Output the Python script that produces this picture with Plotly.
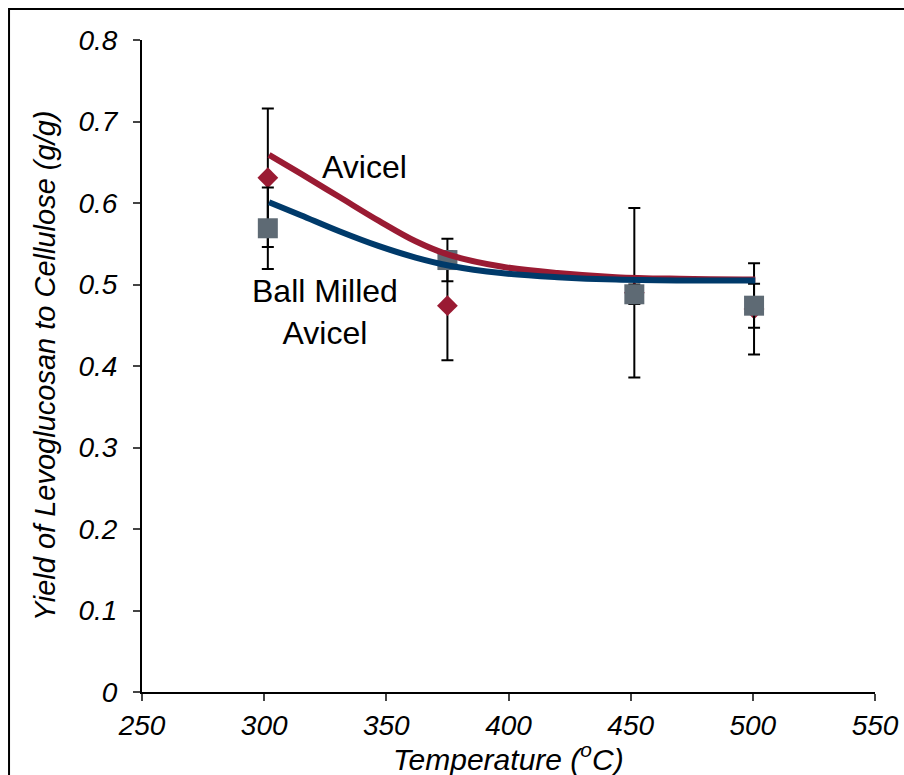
import plotly.graph_objects as go

# Measured data
temps = [301.5, 375, 451.5, 500.5]
avicel_yield = [0.631, 0.474, 0.490, 0.470]
avicel_err = [0.085, 0.067, 0.104, 0.056]
bm_yield = [0.569, 0.530, 0.488, 0.474]
bm_err = [0.050, 0.026, 0.012, 0.027]

# Fitted curves
fit_t = [302, 315, 331, 347, 362, 376, 397, 420, 444, 470, 501]
avicel_fit = [0.659, 0.636, 0.607, 0.578, 0.553, 0.536, 0.522, 0.514, 0.509, 0.507, 0.506]
bm_fit = [0.601, 0.585, 0.565, 0.547, 0.533, 0.523, 0.514, 0.509, 0.506, 0.505, 0.505]

x_ticks = [250, 300, 350, 400, 450, 500, 550]
y_ticks = [0, 0.1, 0.2, 0.3, 0.4, 0.5, 0.6, 0.7, 0.8]
y_tick_text = ["0", "0.1", "0.2", "0.3", "0.4", "0.5", "0.6", "0.7", "0.8"]

RED = "#9A1B33"
BLUE = "#003A6A"
GRAY = "#5E6A74"
FONT = "Liberation Sans, Arial, sans-serif"

fig = go.Figure()
fig.add_trace(go.Scatter(
    x=temps, y=avicel_yield, mode="markers",
    marker=dict(symbol="diamond", size=16, color=RED),
    error_y=dict(type="data", array=avicel_err, color="black", thickness=2, width=6),
    showlegend=False))
fig.add_trace(go.Scatter(
    x=temps, y=bm_yield, mode="markers",
    marker=dict(symbol="square", size=20, color=GRAY),
    error_y=dict(type="data", array=bm_err, color="black", thickness=2, width=6),
    showlegend=False))
fig.add_trace(go.Scatter(
    x=fit_t, y=avicel_fit, mode="lines",
    line=dict(color=RED, width=6, shape="spline", smoothing=1), showlegend=False))
fig.add_trace(go.Scatter(
    x=fit_t, y=bm_fit, mode="lines",
    line=dict(color=BLUE, width=6, shape="spline", smoothing=1), showlegend=False))

tickfont = dict(family=FONT, size=28, color="black", style="italic")

fig.update_xaxes(
    range=[250, 550], tickvals=x_ticks, ticks="outside", ticklen=7, tickwidth=2,
    showline=True, linewidth=2, linecolor="black", showgrid=False, zeroline=False,
    tickfont=tickfont, automargin=False)
fig.update_yaxes(
    range=[0, 0.8], tickvals=y_ticks, ticktext=y_tick_text, ticks="outside",
    ticklen=7, tickwidth=2, showline=True, linewidth=2, linecolor="black",
    showgrid=False, zeroline=False, tickfont=tickfont, ticklabelstandoff=10,
    automargin=False)

fig.add_annotation(text="Temperature (<sup>o</sup>C)", xref="paper", yref="paper",
                   x=0.5, y=-0.1, xanchor="center", yanchor="middle", showarrow=False,
                   font=dict(family=FONT, size=30, color="black", style="italic"))
fig.add_annotation(text="Yield of Levoglucosan to Cellulose (g/g)", xref="paper", yref="paper",
                   x=-0.1323, y=0.5, xanchor="center", yanchor="middle", textangle=-90,
                   showarrow=False,
                   font=dict(family=FONT, size=29, color="black", style="italic"))
fig.add_annotation(text="Avicel", x=341, y=0.644, showarrow=False,
                   font=dict(family=FONT, size=32, color="black"))
fig.add_annotation(text="Ball Milled<br>Avicel", x=325, y=0.466, showarrow=False,
                   font=dict(family=FONT, size=32, color="black"))

# outer frame (left and top edges visible)
fig.add_shape(type="rect", xref="paper", yref="paper", x0=-0.1814, x1=1.4, y0=-0.4, y1=1.0475,
              line=dict(color="black", width=2), layer="below")

fig.update_layout(
    width=904, height=775, margin=dict(l=142, r=29, t=40, b=83, autoexpand=False),
    paper_bgcolor="white", plot_bgcolor="white")

fig.write_html(
    "out.html",
    config={"displayModeBar": False},
    post_script="document.body.style.margin='0';document.body.style.overflow='hidden';")
